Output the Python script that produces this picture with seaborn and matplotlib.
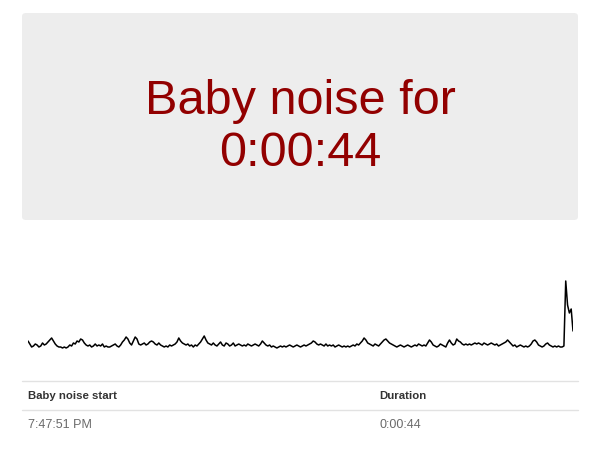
import numpy as np
import pandas as pd
import matplotlib
matplotlib.use("Agg")
import matplotlib.pyplot as plt
from matplotlib.patches import FancyBboxPatch
import seaborn as sns

# Summary text
title_line1 = "Baby noise for"
title_line2 = "0:00:44"

# Table contents
table_headers = ["Baby noise start", "Duration"]
table_row = ["7:47:51 PM", "0:00:44"]

# Noise level samples
noise_level = [
    9, 6, 3, 4, 6, 5, 3, 4, 7, 5, 6, 8, 10, 12, 9, 6, 4, 3, 3, 2,
    3, 2, 3, 5, 4, 7, 6, 9, 8, 11, 10, 7, 5, 4, 5, 3, 4, 6, 4, 5,
    4, 6, 3, 4, 3, 3, 4, 5, 6, 4, 3, 5, 8, 10, 13, 11, 7, 5, 9, 13,
    11, 6, 5, 6, 7, 5, 6, 8, 9, 8, 6, 5, 7, 5, 4, 3, 4, 3, 5, 4,
    5, 6, 8, 12, 9, 7, 6, 5, 6, 4, 5, 3, 5, 4, 6, 8, 11, 14, 10, 7,
    6, 5, 7, 5, 4, 6, 8, 5, 4, 7, 6, 4, 5, 7, 4, 5, 6, 5, 4, 5,
    4, 6, 5, 4, 5, 6, 5, 4, 6, 9, 7, 5, 4, 5, 3, 4, 3, 2, 3, 4,
    3, 4, 3, 4, 5, 4, 3, 4, 5, 4, 3, 4, 5, 4, 5, 6, 7, 9, 8, 6,
    5, 6, 5, 4, 6, 4, 5, 4, 5, 3, 4, 5, 4, 3, 4, 3, 4, 3, 4, 5,
    4, 6, 5, 7, 9, 12, 10, 7, 6, 5, 4, 6, 5, 4, 6, 8, 10, 11, 9, 7,
    6, 5, 4, 3, 4, 5, 4, 3, 4, 5, 4, 3, 4, 5, 4, 6, 5, 4, 5, 4,
    7, 10, 8, 5, 4, 3, 4, 6, 5, 4, 3, 7, 10, 7, 5, 6, 11, 9, 8, 6,
    5, 6, 5, 6, 5, 6, 7, 6, 7, 6, 5, 7, 6, 5, 6, 7, 6, 5, 6, 4,
    5, 6, 7, 8, 10, 8, 6, 4, 5, 3, 4, 5, 4, 3, 4, 3, 4, 6, 9, 10,
    8, 5, 4, 3, 4, 6, 7, 5, 4, 3, 4, 3, 4, 3, 3, 4, 69, 45, 37, 41,
    19,
]
sample = list(range(len(noise_level)))

W, H = 600, 468
fig = plt.figure(figsize=(6, 4.68), dpi=100)
sns.set_theme(style="white")
plt.rcParams['font.family'] = ['Liberation Sans', 'DejaVu Sans']

def fx(px):
    return px / W

def fy(py):
    return 1 - py / H

# grey summary box
box = FancyBboxPatch((fx(22), fy(220)), fx(578) - fx(22), fy(13) - fy(220),
                     boxstyle="round,pad=0,rounding_size=0.007",
                     transform=fig.transFigure, facecolor="#ededed",
                     edgecolor="none", zorder=0)
fig.patches.append(box)
fig.text(0.5, fy(114), title_line1, ha="center", va="baseline",
         fontsize=35, color="#920000")
fig.text(0.5, fy(166), title_line2, ha="center", va="baseline",
         fontsize=35, color="#920000")

# noise line
df = pd.DataFrame({"sample": sample, "level": noise_level})
ax = fig.add_axes([fx(28), fy(352), fx(573) - fx(28), (352 - 278) / H])
sns.lineplot(data=df, x="sample", y="level", ax=ax, color="black", linewidth=1.1)
ax.set_xlim(0, len(noise_level) - 1)
ax.set_ylim(-2, 72)
ax.axis("off")

# table
for py in (381, 410):
    fig.add_artist(plt.Line2D([fx(22), fx(578)], [fy(py), fy(py)],
                              transform=fig.transFigure, color="#e2e2e2", lw=1))
col_x = [fx(28), fx(379)]
for x, h in zip(col_x, table_headers):
    fig.text(x, fy(396), h, ha="left", va="center", fontsize=8.2,
             fontweight="bold", color="#333333")
for x, v in zip(col_x, table_row):
    fig.text(x, fy(425), v, ha="left", va="center", fontsize=9, color="#6a6a6a")

fig.savefig("out.png", dpi=100, facecolor="white")
